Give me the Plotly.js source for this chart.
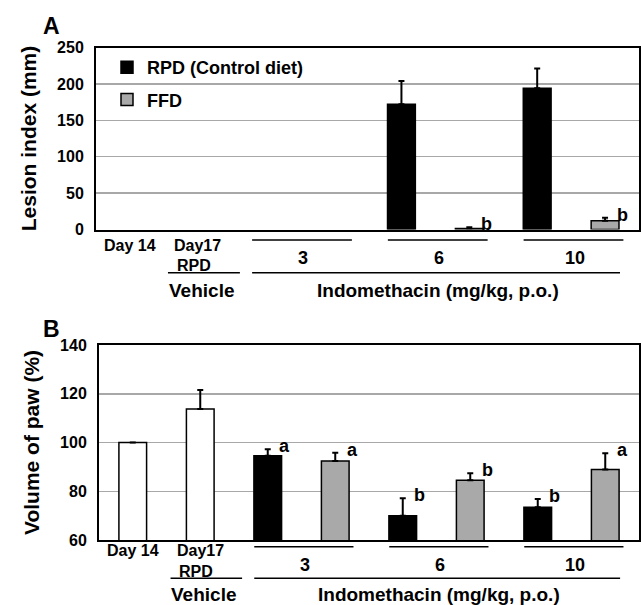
<!DOCTYPE html>
<html>
<head>
<meta charset="utf-8">
<script src="https://cdn.plot.ly/plotly-3.0.1.min.js"></script>
<style>
  html, body { margin: 0; padding: 0; background: #fff; }
  #chart { width: 641px; height: 605px; }
</style>
</head>
<body>
<div id="chart"></div>
<script>
// ---------- data ----------
const slots = ['Day 14', 'Day17 RPD', '3 RPD', '3 FFD', '6 RPD', '6 FFD', '10 RPD', '10 FFD'];
const doses = ['3', '6', '10'];
const vehicleLabels = ['Day 14', 'Day17'];
const vehicleSubLabels = ['', 'RPD'];
const groupTitles = ['Vehicle', 'Indomethacin (mg/kg, p.o.)'];
const seriesNames = ['RPD (Control diet)', 'FFD'];

// Panel A: lesion index (mm)
const lesionRPD = [0, 172, 194];
const lesionRPDErr = [0, 32, 27];
const lesionFFD = [0, 1.5, 12];
const lesionFFDErr = [0, 1.5, 4];
const lesionFFDSig = ['', 'b', 'b'];

// Panel B: volume of paw (%)
const pawVehicle = [100, 113.7];
const pawVehicleErr = [0, 7.8];
const pawRPD = [94.6, 70.0, 73.4];
const pawRPDErr = [2.6, 7.1, 3.4];
const pawFFD = [92.4, 84.5, 88.9];
const pawFFDErr = [3.4, 2.9, 6.7];
const pawRPDSig = ['a', 'b', 'b'];
const pawFFDSig = ['a', 'b', 'a'];

// ---------- helpers ----------
const W = 641, H = 605;
const FONT = 'Liberation Sans, Arial, Helvetica, sans-serif';
const py = p => 1 - p / H;
const px = p => p / W;
const rpdSlots = doses.map(d => d + ' RPD');
const ffdSlots = doses.map(d => d + ' FFD');
const vehSlots = slots.slice(0, 2);

function bar(x, y, err, color, xa, ya, name, show, group) {
  // zero-valued points draw no visible bar; leave them out
  const keep = y.map((v, i) => i).filter(i => y[i] > 0);
  const e = keep.map(i => err[i]);
  return {
    type: 'bar', x: keep.map(i => x[i]), y: keep.map(i => y[i]),
    xaxis: xa, yaxis: ya, name: name,
    showlegend: show, legendgroup: group,
    width: 0.41,
    marker: { color: color, line: { color: '#000', width: 1.5 } },
    error_y: { type: 'data', symmetric: false,
               array: e.map(v => v > 0 ? v : null),
               arrayminus: e.map(v => v > 0 ? 0 : null),
               color: '#000', thickness: 2, width: 3 },
    hoverinfo: 'skip'
  };
}

const GRAY = '#a9a9a9';
const traces = [
  bar(rpdSlots, lesionRPD, lesionRPDErr, '#000', 'x', 'y', seriesNames[0], true, 'rpd'),
  bar(ffdSlots, lesionFFD, lesionFFDErr, GRAY, 'x', 'y', seriesNames[1], true, 'ffd'),
  bar(vehSlots, pawVehicle, pawVehicleErr, '#fff', 'x2', 'y2', 'Vehicle', false, 'veh'),
  bar(rpdSlots, pawRPD, pawRPDErr, '#000', 'x2', 'y2', seriesNames[0], false, 'rpd'),
  bar(ffdSlots, pawFFD, pawFFDErr, GRAY, 'x2', 'y2', seriesNames[1], false, 'ffd')
];

// ---------- annotations ----------
const ann = [];
const txt = (text, x, xref, y, size, extra) => Object.assign({
  text: text, x: x, xref: xref, y: y, yref: 'paper', showarrow: false,
  xanchor: 'center', yanchor: 'middle',
  font: { family: FONT, size: size, color: '#000', weight: 'bold' }
}, extra || {});

// significance letters
function sig(letters, sl, vals, errs, xref, yref) {
  letters.forEach((l, i) => {
    if (!l) return;
    ann.push({
      text: l, x: sl[i], xref: xref, y: vals[i] + errs[i], yref: yref,
      xshift: 17, yshift: 3, showarrow: false, xanchor: 'center', yanchor: 'middle',
      font: { family: FONT, size: 18, color: '#000', weight: 'bold' }
    });
  });
}
sig(lesionFFDSig, ffdSlots, lesionFFD, lesionFFDErr, 'x', 'y');
sig(pawRPDSig, rpdSlots, pawRPD, pawRPDErr, 'x2', 'y2');
sig(pawFFDSig, ffdSlots, pawFFD, pawFFDErr, 'x2', 'y2');

// panel letters
ann.push(txt('A', px(51), 'paper', py(26), 23));
ann.push(txt('B', px(51), 'paper', py(329), 23));

// x-axis category labels (multi-level), per panel
const shapes = [];
function xlabels(xref, rows) {
  vehicleLabels.forEach((l, i) => ann.push(txt(l, i, xref, py(rows.r1), 16)));
  vehicleSubLabels.forEach((l, i) => { if (l) ann.push(txt(l, i - 0.06, xref, py(rows.r2), 16)); });
  ann.push(txt(groupTitles[0], 1.06, xref, py(rows.r3), 19));
  ann.push(txt(groupTitles[1], 4.54, xref, py(rows.r3), 19));
  doses.forEach((d, i) => {
    ann.push(txt(d, 2 * i + 2.55, xref, py(rows.dose), 18));
    shapes.push({ type: 'line', xref: xref, yref: 'paper', x0: 2 * i + 1.8, x1: 2 * i + 3.27,
                  y0: py(rows.up), y1: py(rows.up), line: { color: '#000', width: 1.5 } });
  });
  shapes.push({ type: 'line', xref: xref, yref: 'paper', x0: 0.56, x1: 1.62,
                y0: py(rows.low), y1: py(rows.low), line: { color: '#000', width: 1.5 } });
  shapes.push({ type: 'line', xref: xref, yref: 'paper', x0: 1.8, x1: 7.22,
                y0: py(rows.low), y1: py(rows.low), line: { color: '#000', width: 1.5 } });
}
xlabels('x', { r1: 245, r2: 265, r3: 290, dose: 258, up: 240, low: 272.7 });
xlabels('x2', { r1: 550.7, r2: 571.7, r3: 594, dose: 565, up: 546.7, low: 578.3 });

// ---------- axes ----------
const xBase = {
  type: 'category', categoryorder: 'array', categoryarray: slots, range: [-0.5, 7.5],
  showticklabels: false, ticks: '', showgrid: false, zeroline: false,
  showline: true, mirror: true, linecolor: '#000', linewidth: 2, fixedrange: true
};
const yBase = {
  ticks: '', showgrid: true, gridcolor: '#a8a8a8', gridwidth: 1.5, zeroline: false,
  showline: true, mirror: true, linecolor: '#000', linewidth: 2, fixedrange: true,
  tickfont: { family: FONT, size: 16, color: '#000', weight: 'bold' },
  ticklabelstandoff: 7
};

const layout = {
  width: W, height: H,
  margin: { l: 0, r: 0, t: 0, b: 0, pad: 0 },
  paper_bgcolor: '#fff', plot_bgcolor: '#fff',
  barmode: 'overlay',
  showlegend: true,
  legend: {
    x: px(107), y: py(49), xanchor: 'left', yanchor: 'top',
    bgcolor: 'rgba(0,0,0,0)', traceorder: 'grouped', tracegroupgap: 6,
    font: { family: FONT, size: 18, color: '#000', weight: 'bold' }
  },
  xaxis: Object.assign({}, xBase, { domain: [px(96), px(639)], anchor: 'y' }),
  yaxis: Object.assign({}, yBase, {
    domain: [py(229.5), py(47.5)], anchor: 'x', range: [0, 250], dtick: 50,
    title: { text: 'Lesion index (mm)', standoff: 15,
             font: { family: FONT, size: 21, color: '#000', weight: 'bold' } }
  }),
  xaxis2: Object.assign({}, xBase, { domain: [px(99), px(639)], anchor: 'y2' }),
  yaxis2: Object.assign({}, yBase, {
    domain: [py(540), py(345)], anchor: 'x2', range: [60, 140], dtick: 20,
    title: { text: 'Volume of paw (%)', standoff: 15,
             font: { family: FONT, size: 21, color: '#000', weight: 'bold' } }
  }),
  annotations: ann,
  shapes: shapes
};

Plotly.newPlot('chart', traces, layout, { staticPlot: true, displayModeBar: false });
</script>
</body>
</html>
